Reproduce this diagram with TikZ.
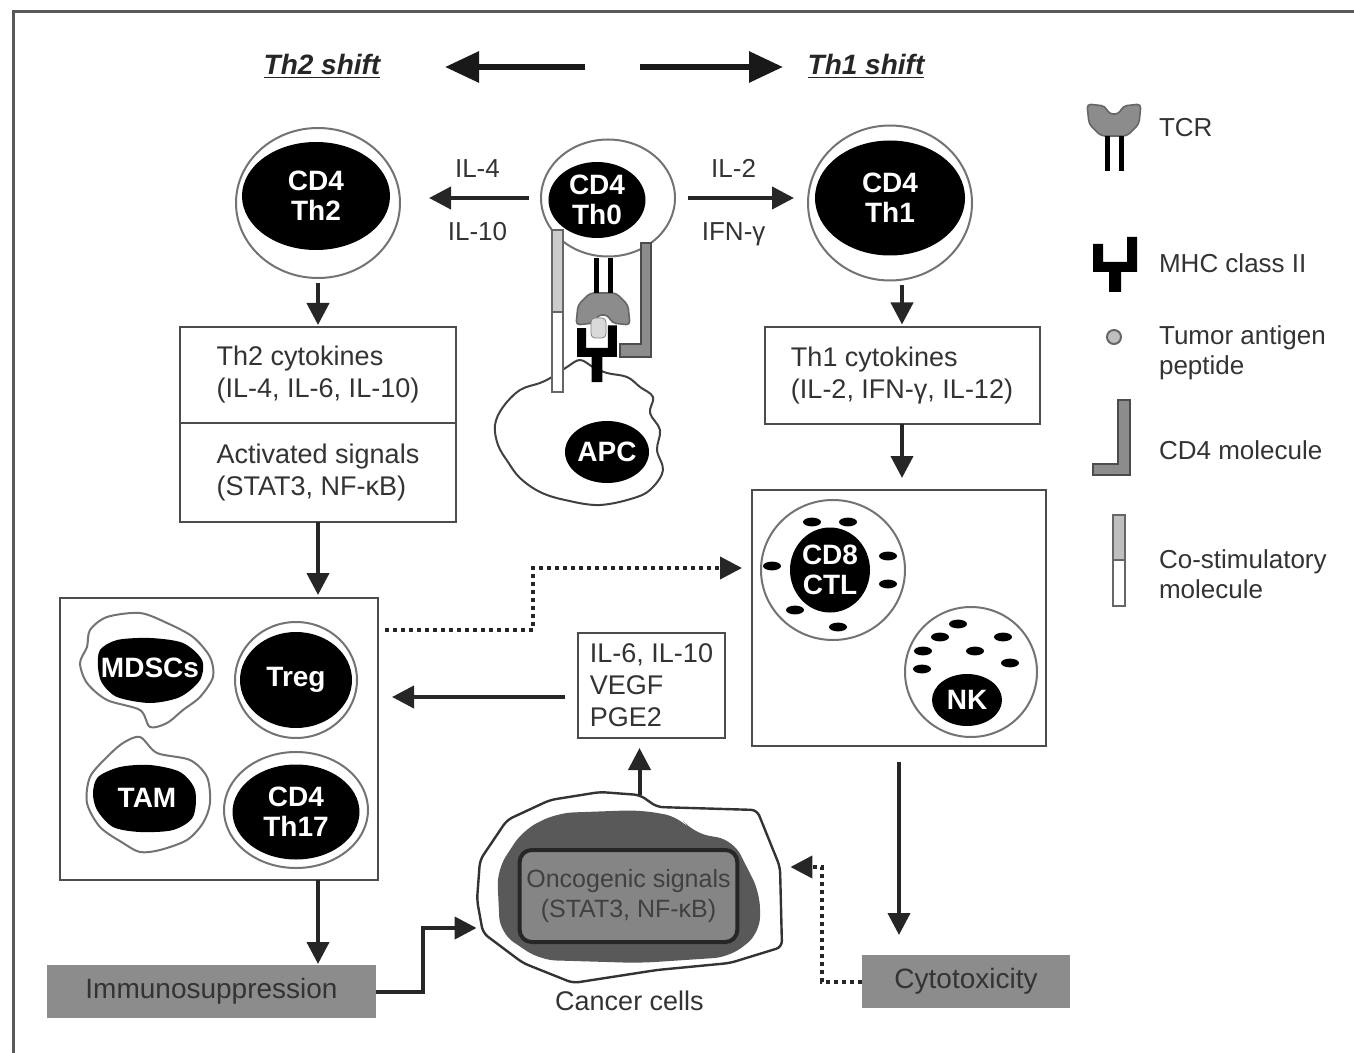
\documentclass[tikz,border=0pt]{standalone}
\usepackage{fontspec}
\setmainfont{Liberation Sans}
\usepackage{xcolor}
\usepackage{tikz}
\usetikzlibrary{positioning, shapes.geometric, arrows.meta}

\begin{document}
\begin{tikzpicture}[x=0.5pt, y=-0.5pt, node distance=0pt]
            \tikzstyle{ring} = [ellipse, draw=black!55, line width=1pt, fill=white, inner sep=0pt]
            \tikzstyle{core} = [ellipse, fill=black, text=white, inner sep=0pt, align=center, font=\bfseries\fontsize{14}{15}\selectfont]
            \tikzstyle{celltxt} = [text=white, font=\bfseries\fontsize{14}{15}\selectfont]
            \tikzstyle{txtbox} = [rectangle, draw=black!70, line width=1pt, fill=white, outer sep=0pt, align=left, text=black!80, font=\fontsize{13.5}{16}\selectfont]
            \tikzstyle{greybox} = [rectangle, fill=black!45, outer sep=0pt, text=black!80, font=\fontsize{14}{16}\selectfont]
            \tikzstyle{lbl} = [text=black!80, font=\fontsize{13}{15}\selectfont]
            \tikzstyle{legtxt} = [lbl, anchor=west, align=left]
            \tikzstyle{arr} = [-{Triangle[length=11pt, width=11pt]}, line width=2pt, draw=black!85]
            \tikzstyle{dotarr} = [arr, dash pattern=on 2pt off 2pt]
            \tikzstyle{bigarr} = [-{Triangle[length=17pt, width=15pt]}, line width=3pt, draw=black!90]
            \tikzstyle{granule} = [fill=black]

            \useasboundingbox (0,0) rectangle (1354,1053);
            \draw [black!65, line width=1.5pt] (13,1053) -- (13,12) -- (1354,12);

            % shift titles
            \node [text=black!85, font=\bfseries\itshape\fontsize{14}{16}\selectfont] (th2shift) at (322,66) {\underline{Th2 shift}};
            \node [text=black!85, font=\bfseries\itshape\fontsize{14}{16}\selectfont] (th1shift) at (866,66) {\underline{Th1 shift}};
            \coordinate (l0) at (585,67);
            \coordinate (l1) at (445,67);
            \coordinate (r0) at (640,67);
            \coordinate (r1) at (783,67);
            \draw [bigarr] (l0) to (l1);
            \draw [bigarr] (r0) to (r1);

            % CD4 cells
            \node [ring, minimum width=82pt, minimum height=75pt] (th2ring) at (318,203) {};
            \node [core, minimum width=74pt, minimum height=54pt] (th2core) at (316,196) {CD4\\Th2};
            \node [ring, minimum width=67pt, minimum height=58.5pt] (th0ring) at (608,198) {};
            \node [core, minimum width=48.5pt, minimum height=38pt] (th0core) at (597,200) {CD4\\Th0};
            \node [ring, minimum width=82pt, minimum height=77.5pt] (th1ring) at (890,203) {};
            \node [core, minimum width=75pt, minimum height=57.5pt] (th1core) at (890,198) {CD4\\Th1};

            % APC and the synapse
            \draw [black!75, line width=1pt, fill=white] plot [smooth cycle, tension=0.6] coordinates {(503,407) (520,390) (540,383) (552,377) (567,367) (580,360) (593,367) (607,373) (627,377) (640,387) (653,397) (650,413) (660,430) (657,450) (663,470) (653,487) (637,497) (600,505) (565,500) (540,492) (520,478) (508,462) (498,445) (495,425)};
            \node [core, minimum width=42pt, minimum height=31pt] (apc) at (607,452) {APC};
            \draw [black!60, line width=0.8pt, fill=black!20] (552,230) rectangle (563,312);
            \draw [black!60, line width=0.8pt, fill=white] (552,312) rectangle (563,392);
            \draw [black!70, line width=0.8pt, fill=black!45] (641,243) -- (651,243) -- (651,357) -- (620,357) -- (620,344) -- (641,344) -- cycle;
            \begin{scope}[shift={(603,293)}, yscale=-1]
                \draw [black!60, line width=0.8pt, fill=black!45, rounded corners=2pt] (-27,-32) -- (-9,-30) -- (-5,-22) -- (5,-22) -- (9,-30) -- (27,-32) -- (25,-12) -- (13,0) -- (-13,0) -- (-25,-12) -- cycle;
                \draw [black, line width=2.5pt] (-7,0) -- (-7,35) (7,0) -- (7,35);
            \end{scope}
            \draw [black!50, fill=black!15, rounded corners=2pt] (591,318) rectangle (606,338);
            \fill [black, shift={(597,357)}, scale=0.9] (-22,-32) -- (-12,-32) -- (-12,-10) -- (12,-10) -- (12,-35) -- (22,-35) -- (22,0) -- (6,0) -- (6,28) -- (-6,28) -- (-6,0) -- (-22,0) -- cycle;

            \draw [arr, shorten <=5.5pt, shorten >=14pt] (th0ring.west) -- (th0ring.west -| th2ring.east)
                node [pos=0.45, above=6pt, lbl] (il4) {IL-4}
                node [pos=0.45, below=8pt, lbl] (il10) {IL-10};
            \draw [arr, shorten <=6pt, shorten >=6.5pt] (th0ring.east) -- (th0ring.east -| th1ring.west)
                node [pos=0.44, above=6pt, lbl] (il2) {IL-2}
                node [pos=0.44, below=8pt, lbl] (ifng) {IFN-γ};

            % Th2 side
            \node [txtbox, minimum width=138pt, minimum height=48pt] (th2cyt) at (318,375) {Th2 cytokines\\(IL-4, IL-6, IL-10)};
            \node [txtbox, minimum width=138pt, minimum height=49.5pt, below = of th2cyt] (th2sig) {Activated signals\\(STAT3, NF-κB)};
            \node [txtbox, minimum width=159pt, minimum height=141pt] (supbox) at (219,739) {};

            \draw [black!55, line width=1pt, fill=white] plot [smooth cycle, tension=0.5] coordinates {(90,630) (107,617) (140,613) (167,623) (193,637) (210,657) (213,677) (200,697) (183,710) (167,723) (150,727) (140,710) (107,700) (87,683) (80,663) (87,647)};
            \fill [black] plot [smooth cycle, tension=0.5] coordinates {(100,650) (117,640) (150,638) (183,643) (202,660) (200,680) (180,697) (150,703) (117,697) (102,683) (98,667)};
            \node [celltxt] (mdsc) at (150,668) {MDSCs};
            \draw [black!55, line width=1pt, fill=white] plot [smooth cycle, tension=0.5] coordinates {(107,757) (123,743) (140,737) (157,753) (190,760) (207,777) (210,803) (203,823) (187,840) (160,850) (140,852) (123,843) (100,827) (87,803) (90,777)};
            \fill [black] plot [smooth cycle, tension=0.5] coordinates {(98,777) (120,767) (150,765) (180,772) (195,790) (193,817) (173,830) (140,832) (113,827) (97,810) (93,793)};
            \node [celltxt] (tam) at (147,798) {TAM};
            \node [ring, minimum width=61pt, minimum height=58pt] (tregring) at (296,680) {};
            \node [core, minimum width=56pt, minimum height=48pt] (treg) at (296,680) {Treg};
            \node [ring, minimum width=72pt, minimum height=58pt] (th17ring) at (296,810) {};
            \node [core, minimum width=63.5pt, minimum height=47.5pt] (th17) at (296,812) {CD4\\Th17};

            \node [greybox, minimum width=164.5pt, minimum height=26.5pt] (immsup) at (211.5,991.5) {Immunosuppression};

            % Th1 side
            \node [txtbox, minimum width=137.5pt, minimum height=48.5pt] (th1cyt) at (902,376) {Th1 cytokines\\(IL-2, IFN-γ, IL-12)};
            \node [txtbox, minimum width=147pt, minimum height=128pt] (killbox) at (899,618) {};
            \node [ring, minimum width=72pt, minimum height=70pt] (cd8ring) at (833,570) {};
            \node [core, minimum width=40pt, minimum height=42.5pt] (cd8) at (830,570) {CD8\\CTL};
            \node [ring, minimum width=66pt, minimum height=65pt] (nkring) at (971,672) {};
            \node [core, minimum width=35pt, minimum height=26pt] (nk) at (967,700) {NK};
            \foreach \p in {(812,522), (848,522), (772,566), (888,556), (888,584), (795,610), (838,627),
                            (958,624), (940,637), (1003,637), (923,651), (975,651), (922,669), (1010,663)}
                \fill [granule] \p ellipse [x radius=4.5pt, y radius=2.2pt];

            \node [greybox, minimum width=104pt, minimum height=26.5pt] (cytotox) at (966,981.5) {Cytotoxicity};

            % cancer cells
            \node [minimum width=152.5pt, minimum height=94pt, inner sep=0pt] (cancer) at (629.5,889) {};
            \draw [black!80, line width=1.2pt, fill=white, rounded corners=3pt] (480,860) -- (507,820) -- (550,800) -- (600,792) -- (640,795) -- (657,807) -- (757,810) -- (780,867) -- (782,947) -- (730,963) -- (657,970) -- (573,983) -- (523,963) -- (483,933) -- (477,900) -- cycle;
            \fill [black!65, rounded corners=8pt] (497,870) -- (523,830) -- (557,813) -- (640,810) -- (680,817) -- (693,833) -- (733,840) -- (760,893) -- (760,933) -- (730,957) -- (640,963) -- (540,960) -- (500,933) -- cycle;
            \node [draw=black!85, line width=2pt, fill=black!48, rounded corners=6pt, minimum width=108.5pt, minimum height=46pt, text=black!75, align=center, font=\fontsize{12.5}{15}\selectfont] (onco) at (628.5,896) {Oncogenic signals\\(STAT3, NF-κB)};
            \node [lbl, font=\fontsize{13.5}{15}\selectfont, below = of cancer] (cancerlbl) {Cancer cells};
            \node [txtbox, minimum width=73.5pt, minimum height=52.5pt] (il6box) at (651.5,685.5) {IL-6, IL-10\\VEGF\\PGE2};

            % connectors
            \draw [arr, shorten <=2pt, shorten >=1pt] (th2ring.south) -- (th2cyt.north);
            \draw [arr, shorten >=1.5pt] (th2sig.south) -- (th2sig.south |- supbox.north);
            \draw [arr, shorten >=0.5pt] (supbox.south -| th2sig.south) -- (immsup.north -| th2sig.south);
            \draw [arr] (immsup.east) -- ++(47,0) |- ([yshift=-19.5pt]cancer.west);
            \draw [arr, shorten >=5pt] ([xshift=5pt]cancer.north) -- ([xshift=5pt]cancer.north |- il6box.south);
            \draw [arr, shorten <=6.5pt, shorten >=7pt] ([yshift=-5.75pt]il6box.west) -- ([yshift=-5.75pt]il6box.west -| supbox.east);
            \draw [dotarr] ([shift={(7,-109)}]supbox.east) -- ++(148,0) |- ([shift={(-10,-50)}]killbox.west);
            \draw [arr, shorten <=2pt, shorten >=1.5pt] (th1cyt.north |- th1ring.south) -- (th1cyt.north);
            \draw [arr, shorten >=6pt] (th1cyt.south) -- (th1cyt.south |- killbox.north);
            \draw [arr, shorten <=8pt, shorten >=10pt] (killbox.south) -- (killbox.south |- cytotox.north);
            \draw [dotarr] (cytotox.west) -- ++(-40,0) |- ([shift={(8,-22)}]cancer.east);

            % legend
            \begin{scope}[shift={(1114,136)}]
                \draw [black!60, line width=0.8pt, fill=black!45, rounded corners=2pt] (-27,-32) -- (-9,-30) -- (-5,-22) -- (5,-22) -- (9,-30) -- (27,-32) -- (25,-12) -- (13,0) -- (-13,0) -- (-25,-12) -- cycle;
                \draw [black, line width=2.5pt] (-7,0) -- (-7,35) (7,0) -- (7,35);
            \end{scope}
            \fill [black, shift={(1115,272)}] (-22,-28) -- (-12,-28) -- (-12,-10) -- (12,-10) -- (12,-35) -- (22,-35) -- (22,0) -- (6,0) -- (6,20) -- (-6,20) -- (-6,0) -- (-22,0) -- cycle;
            \draw [black!60, line width=1pt, fill=black!25] (1114,337) circle [radius=3.5pt];
            \draw [black!70, line width=0.8pt, fill=black!45] (1118,400) -- (1130,400) -- (1130,475) -- (1093,475) -- (1093,464) -- (1118,464) -- cycle;
            \draw [black!60, line width=0.8pt, fill=black!25] (1113,515) rectangle (1125,560);
            \draw [black!60, line width=0.8pt, fill=white] (1113,560) rectangle (1125,606);

            \node [legtxt] (tcrlbl) at (1152,128) {TCR};
            \node [legtxt] (mhclbl) at (1152,263) {MHC class II};
            \node [legtxt] (peplbl) at (1152,353) {Tumor antigen\\peptide};
            \node [legtxt] (cd4lbl) at (1152,450) {CD4 molecule};
            \node [legtxt] (costimlbl) at (1152,574) {Co-stimulatory\\molecule};
\end{tikzpicture}
\end{document}
